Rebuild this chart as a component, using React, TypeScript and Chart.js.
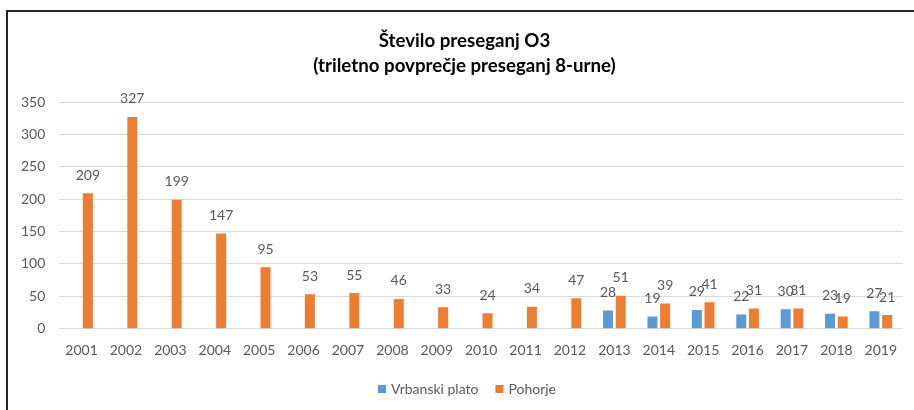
import React, { useEffect, useRef } from 'react';
import { Chart, registerables } from 'chart.js';

Chart.register(...registerables);

const years = ['2001', '2002', '2003', '2004', '2005', '2006', '2007', '2008', '2009', '2010', '2011', '2012', '2013', '2014', '2015', '2016', '2017', '2018', '2019'];
const vrbanskiPlato = [null, null, null, null, null, null, null, null, null, null, null, null, 28, 19, 29, 22, 30, 23, 27];
const pohorje = [209, 327, 199, 147, 95, 53, 55, 46, 33, 24, 34, 47, 51, 39, 41, 31, 31, 19, 21];
const titleLines = ['Število preseganj O3', '(triletno povprečje preseganj 8-urne)'];
const seriesNames = ['Vrbanski plato', 'Pohorje'];
const seriesColors = ['#5B9BD5', '#ED7D31'];
const yMin = 0;
const yMax = 350;
const yStep = 50;

const FONT = 'Lato, "Noto Sans", sans-serif';
const TEXT = '#595959';

const titlePlugin = {
  id: 'customTitle',
  afterDraw(chart: any) {
    const ctx = chart.ctx;
    ctx.save();
    ctx.font = `bold 18.7px ${FONT}`;
    ctx.fillStyle = '#000000';
    ctx.textAlign = 'center';
    ctx.textBaseline = 'alphabetic';
    ctx.fillText(titleLines[0], 464.5, 47);
    ctx.fillText(titleLines[1], 464.5, 72);
    ctx.restore();
  },
};

const dataLabelPlugin = {
  id: 'dataLabels',
  afterDatasetsDraw(chart: any) {
    const ctx = chart.ctx;
    ctx.save();
    ctx.font = `14px ${FONT}`;
    ctx.fillStyle = TEXT;
    ctx.textAlign = 'center';
    ctx.textBaseline = 'alphabetic';
    chart.data.datasets.forEach((ds: any, i: number) => {
      const meta = chart.getDatasetMeta(i);
      meta.data.forEach((el: any, j: number) => {
        const v = ds.data[j];
        if (v === null || v === undefined) return;
        ctx.fillText(String(v), el.x, el.y - 13.5);
      });
    });
    ctx.restore();
  },
};

const legendPlugin = {
  id: 'customLegend',
  afterDraw(chart: any) {
    const ctx = chart.ctx;
    ctx.save();
    ctx.font = `14px ${FONT}`;
    ctx.textBaseline = 'middle';
    ctx.textAlign = 'left';
    const box = 8;
    const gap = 5;
    const between = 17;
    const widths = seriesNames.map((n) => box + gap + ctx.measureText(n).width);
    const total = widths.reduce((a, b) => a + b, 0) + between * (seriesNames.length - 1);
    let x = 467 - total / 2;
    const cy = 389;
    seriesNames.forEach((n, i) => {
      ctx.fillStyle = seriesColors[i];
      ctx.fillRect(x, cy - box / 2, box, box);
      ctx.fillStyle = TEXT;
      ctx.fillText(n, x + box + gap, cy);
      x += widths[i] + between;
    });
    ctx.restore();
  },
};

export default function App() {
  const ref = useRef<HTMLCanvasElement | null>(null);

  useEffect(() => {
    if (!ref.current) return;
    const chart = new Chart(ref.current, {
      type: 'bar',
      data: {
        labels: years,
        datasets: [
          {
            label: seriesNames[0],
            data: vrbanskiPlato,
            backgroundColor: seriesColors[0],
            categoryPercentage: 0.571,
            barPercentage: 0.787,
          },
          {
            label: seriesNames[1],
            data: pohorje,
            backgroundColor: seriesColors[1],
            categoryPercentage: 0.571,
            barPercentage: 0.787,
          },
        ],
      },
      options: {
        responsive: false,
        animation: false,
        devicePixelRatio: 1,
        layout: { padding: { left: 7, right: 11, top: 102, bottom: 38.5 } },
        plugins: {
          legend: { display: false },
          title: { display: false },
          tooltip: { enabled: false },
        },
        scales: {
          x: {
            grid: { display: false, drawTicks: false },
            border: { display: false },
            ticks: { color: TEXT, font: { family: FONT, size: 14 }, padding: 13, maxRotation: 0 },
          },
          y: {
            min: yMin,
            max: yMax,
            grid: { color: '#D9D9D9', lineWidth: 1, drawTicks: false },
            border: { display: false },
            ticks: { stepSize: yStep, color: TEXT, font: { family: FONT, size: 14 }, padding: 14 },
          },
        },
      },
      plugins: [titlePlugin, dataLabelPlugin, legendPlugin],
    } as any);
    return () => chart.destroy();
  }, []);

  return (
    <div style={{ position: 'fixed', left: 0, top: 0, width: 914, height: 410, background: '#ffffff', overflow: 'hidden' }}>
      <canvas ref={ref} width={914} height={410} style={{ display: 'block', width: 914, height: 410 }} />
      <div
        style={{
          position: 'absolute',
          left: 6,
          top: 10,
          width: 920,
          height: 420,
          borderTop: '2px solid #262626',
          borderLeft: '2px solid #262626',
          boxSizing: 'border-box',
          pointerEvents: 'none',
        }}
      />
    </div>
  );
}
